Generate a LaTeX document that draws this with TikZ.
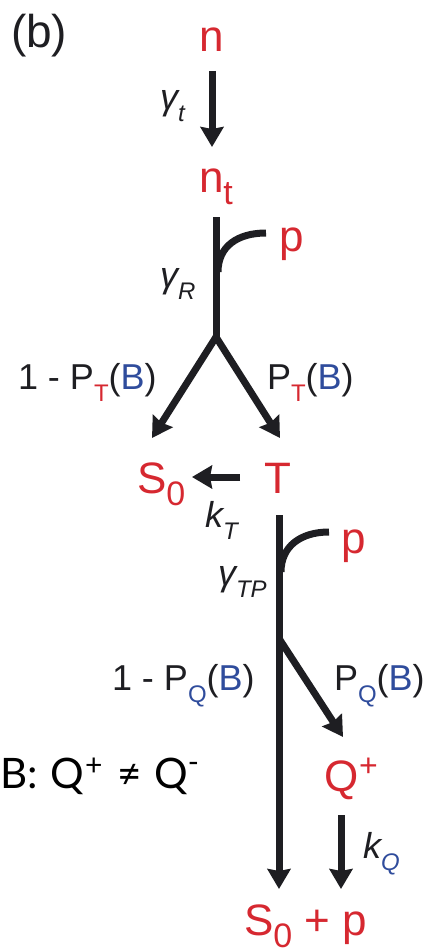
\documentclass[tikz,border=0pt]{standalone}
\usepackage{fontspec}
\usepackage{graphicx}
\setmainfont{Liberation Sans}
\newfontfamily\gillfont{Lato}
\usetikzlibrary{arrows.meta}
\definecolor{sred}{HTML}{D62830}
\definecolor{sblue}{HTML}{2F4C9C}
\definecolor{ink}{HTML}{1E1E22}
\newcommand{\spc}{\fontsize{44}{48}\selectfont}
\newcommand{\rtf}{\fontsize{36}{40}\selectfont}
\newcommand{\ssub}[1]{\raisebox{-12pt}[\height][0pt]{\fontsize{34}{38}\selectfont #1}}
\newcommand{\rsub}[1]{\raisebox{-12pt}{\fontsize{24}{26}\selectfont #1}}
\tikzset{
  x=1pt, y=-1pt,
  txt/.style={inner sep=0pt, outer sep=0pt, anchor=base west},
  spec/.style={txt, text=sred, font=\spc},
  rate/.style={txt, text=ink, font=\rtf},
  arr/.style={line width=7pt, draw=ink, -{Stealth[length=20pt,width=23pt,inset=2pt]}},
  ln/.style={line width=7pt, draw=ink},
}
\begin{document}
\begin{tikzpicture}
\useasboundingbox (0,0) rectangle (430,952);
% texts
\node[txt, text=ink, font=\fontsize{46}{50}\selectfont] (lab) at (11,48) {(b)};
\node[spec] (n) at (199,52) {n};
\node[spec] (nt) at (199,193) {n\ssub{t}};
\node[spec] (p1) at (279,251) {p};
\node[rate] (gt) at (160,110) {\itshape γ\rsub{t}};
\node[rate] (gr) at (160,287) {\itshape γ\rsub{R}};
\node[rate] (pl) at (18,389) {1 - P\rsub{\textcolor{sred}{T}}(\textcolor{sblue}{B})};
\node[rate] (pr) at (267,389) {P\rsub{\textcolor{sred}{T}}(\textcolor{sblue}{B})};
\node[spec] (s0) at (137,493) {S\ssub{0}};
\node[spec] (T) at (264,493) {T};
\node[rate] (kt) at (205,527) {\itshape k\rsub{T}};
\node[spec] (p2) at (341,553) {p};
\node[rate] (gtp) at (218,585) {\itshape γ\rsub{TP}};
\node[rate] (ql) at (112,690) {1 - P\rsub{\textcolor{sblue}{Q}}(\textcolor{sblue}{B})};
\node[rate] (qr) at (334,690) {P\rsub{\textcolor{sblue}{Q}}(\textcolor{sblue}{B})};
\node[txt, text=black, font=\gillfont\fontsize{42}{46}\selectfont] (bq) at (0,788)
  {B:\hspace{2pt} Q\hspace{1pt}\raisebox{13pt}{\fontsize{30}{32}\selectfont +}\hspace{4pt} ≠ \hspace{2pt}Q\raisebox{16pt}{\fontsize{30}{32}\selectfont -}};
\node[spec] (qp) at (324,791) {Q\hspace{1pt}\raisebox{15pt}{\fontsize{32}{34}\selectfont +}};
\node[rate] (kq) at (363,858) {\itshape k\rsub{\textcolor{sblue}{Q}}};
\node[spec] (sp) at (244,935) {S\ssub{0} + p};
% connector points
\coordinate (a1s) at (212,71);
\coordinate (a1e) at (212,147);
\coordinate (v1s) at (216,217);
\coordinate (j1) at (216,337);
\coordinate (c1s) at (218,272);
\coordinate (c1e) at (266,233);
\coordinate (tl) at (152,438);
\coordinate (tr) at (280,438);
\coordinate (kts) at (240,477);
\coordinate (kte) at (192,477);
\coordinate (v2s) at (279,515);
\coordinate (v2e) at (279,889);
\coordinate (c2s) at (281,572);
\coordinate (c2e) at (329,532);
\coordinate (j2) at (280,640);
\coordinate (qe) at (343,737);
\coordinate (kqs) at (341,815);
\coordinate (kqe) at (341,889);
% connectors
\draw[arr] (a1s) -- (a1e);
\draw[ln] (v1s) -- (j1);
\draw[ln] (c1s) .. controls (218,246) and (238,233) .. (c1e);
\draw[arr, line cap=round] (j1) -- (tl);
\draw[arr, line cap=round] (j1) -- (tr);
\draw[arr] (kts) -- (kte);
\draw[arr] (v2s) -- (v2e);
\draw[ln] (c2s) .. controls (281,546) and (301,532) .. (c2e);
\draw[arr] (j2) -- (qe);
\draw[arr] (kqs) -- (kqe);
\end{tikzpicture}
\end{document}
